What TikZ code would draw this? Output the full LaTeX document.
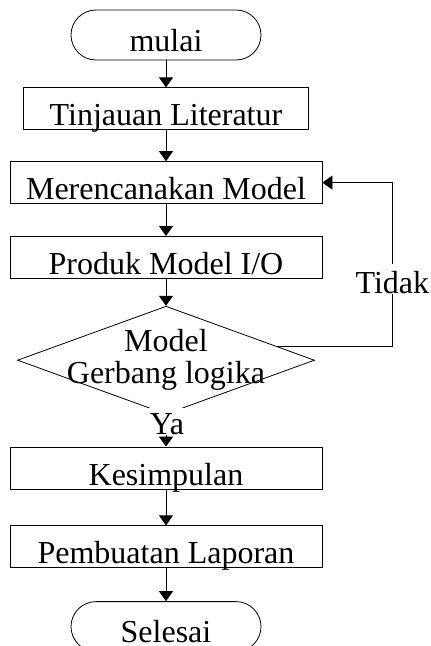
\documentclass[tikz,border=0pt]{standalone}
\usepackage{fontspec}
\setmainfont{Liberation Serif}
\usetikzlibrary{positioning,arrows.meta,shapes.geometric,calc}

\begin{document}
\begin{tikzpicture}[x=1pt, y=-1pt, node distance=30pt,
    every node/.style={font=\fontsize{32}{32}\selectfont, align=center},
    kotak/.style={draw, line width=0.8pt, minimum width=312pt, inner xsep=0pt,
      inner ysep=0pt, text height=38pt, text depth=4pt},
    ujung/.style={draw, line width=0.8pt, rounded corners=25pt, minimum width=190pt,
      inner ysep=0pt, text height=41pt, text depth=9pt},
    putusan/.style={draw, diamond, line width=0.8pt, minimum width=297pt,
      minimum height=108pt, inner sep=0pt},
    ket/.style={fill=white, inner xsep=3pt, inner ysep=0pt},
    panah/.style={-{Triangle[width=14pt,length=10pt]}, line width=0.8pt}]
  \useasboundingbox (0,0) rectangle (431,646);
  \node[ujung] (mulai) at (166,35) {mulai};
  \node[kotak, minimum width=285pt, below=27pt of mulai] (tinjauan) {Tinjauan Literatur};
  \node[kotak, below=31pt of tinjauan] (rencana) {Merencanakan Model};
  \node[kotak, below=32pt of rencana] (produk) {Produk Model I/O};
  \node[putusan, below=27pt of produk] (cek) {};
  \node (cekteks) at (cek) {Model\\Gerbang logika};
  \node[kotak, below=32pt of cek] (kesimpulan) {Kesimpulan};
  \node[kotak, below=36pt of kesimpulan] (laporan) {Pembuatan Laporan};
  \node[ujung, below=33pt of laporan] (selesai) {Selesai};
  \draw[panah] (mulai) -- (tinjauan);
  \draw[panah] (tinjauan) -- (rencana);
  \draw[panah] (rencana) -- (produk);
  \draw[panah] (produk) -- (cek);
  \draw[panah] (cek) -- (kesimpulan);
  \draw[panah] (kesimpulan) -- (laporan);
  \draw[panah] (laporan) -- (selesai);
  \coordinate (belok) at ($(rencana.east)+(70,0)$);
  \draw[panah] (cek.7) -| (belok) -- (rencana.east);
  \node[ket, anchor=base, text height=30pt, text depth=-8pt] (tidak)
    at ($(belok)+(0,111)$) {Tidak};
  \node[ket, anchor=base, text height=27pt, text depth=-5pt] (ya)
    at ($(cek.south)+(1,20)$) {Ya};
\end{tikzpicture}
\end{document}
